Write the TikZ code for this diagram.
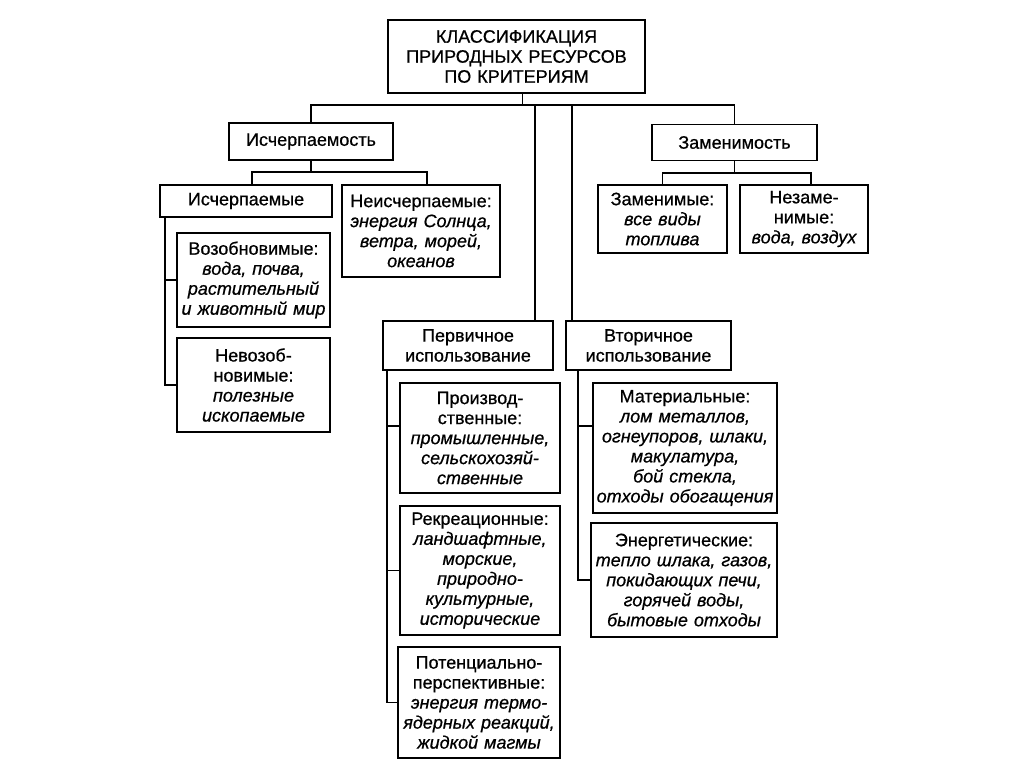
\documentclass[tikz,border=0pt]{standalone}
\usepackage{fontspec}
\setmainfont{Liberation Sans}[UprightFeatures={FakeBold=0.7}, ItalicFeatures={FakeBold=0.7}]
\newcommand\exmpl[1]{{\itshape #1}}
\begin{document}
\begin{tikzpicture}[x=1pt, y=-1pt, line width=1.8pt,
  box/.style={draw, align=center, inner xsep=2pt, inner ysep=0pt,
    font=\fontsize{18}{20}\selectfont}]
  \useasboundingbox [fill=white] (0,0) rectangle (1024,767);

  % top level
  \node [box, text width=253, minimum height=73] (title) at (516.5,56.5)
    {КЛАССИФИКАЦИЯ\\ПРИРОДНЫХ РЕСУРСОВ\\ПО КРИТЕРИЯМ};
  \node [box, text width=160, minimum height=37] (isch) at (311,141.5) {Исчерпаемость};
  \node [box, text width=161, minimum height=36] (zamen) at (734.5,142.5) {Заменимость};

  % exhaustibility
  \node [box, text width=168, minimum height=32] (ischy) at (246,201) {Исчерпаемые};
  \node [box, text width=154, minimum height=92] (neisch) at (421,231)
    {Неисчерпаемые:\\\exmpl{энергия Солнца,\\ветра, морей,\\океанов}};
  \node [box, text width=149, minimum height=94] (vozob) at (253.5,280)
    {Возобновимые:\\\exmpl{вода, почва,\\растительный\\и животный мир}};
  \node [box, text width=149, minimum height=94] (nevozob) at (253.5,385)
    {Невозоб-\\новимые:\\\exmpl{полезные\\ископаемые}};

  % replaceability
  \node [box, text width=125, minimum height=68] (zamy) at (662.5,219)
    {Заменимые:\\\exmpl{все виды\\топлива}};
  \node [box, text width=124, minimum height=68] (nezam) at (804,219)
    {Незаме-\\нимые:\\\exmpl{вода, воздух}};

  % use
  \node [box, text width=166, minimum height=49] (perv) at (468,345.5) {Первичное\\использование};
  \node [box, text width=161, minimum height=49] (vtor) at (648.5,345.5) {Вторичное\\использование};
  \node [box, text width=156, minimum height=110] (proizv) at (480,438)
    {Производ-\\ственные:\\\exmpl{промышленные,\\сельскохозяй-\\ственные}};
  \node [box, text width=156, minimum height=129] (rekr) at (480,570.5)
    {Рекреационные:\\\exmpl{ландшафтные,\\морские,\\природно-\\культурные,\\исторические}};
  \node [box, text width=158, minimum height=111] (potenc) at (479,702.5)
    {Потенциально-\\перспективные:\\\exmpl{энергия термо-\\ядерных реакций,\\жидкой магмы}};
  \node [box, text width=180, minimum height=130] (mater) at (685,448)
    {Материальные:\\\exmpl{лом металлов,\\огнеупоров, шлаки,\\макулатура,\\бой стекла,\\отходы обогащения}};
  \node [box, text width=182, minimum height=114] (energ) at (684,580)
    {Энергетические:\\\exmpl{тепло шлака, газов,\\покидающих печи,\\горячей воды,\\бытовые отходы}};

  % main bus
  \coordinate (bus) at (0,105);
  \coordinate (titlestem) at ([xshift=6pt]title.south);
  \draw (titlestem) -- (titlestem |- bus);
  \draw (isch.north) |- (zamen.north |- bus) -- (zamen.north);
  \coordinate (pervtop) at ([xshift=-19pt]perv.north east);
  \coordinate (vtortop) at ([xshift=7pt]vtor.north west);
  \draw (pervtop) -- (pervtop |- bus);
  \draw (vtortop) -- (vtortop |- bus);

  % second level buses
  \coordinate (ischbus) at (0,172);
  \coordinate (ischyup) at ([xshift=6pt]ischy.north);
  \coordinate (neischup) at ([xshift=6pt]neisch.north);
  \draw (isch.south) -- (isch.south |- ischbus);
  \draw (ischyup) |- (neischup |- ischbus) -- (neischup);
  \coordinate (zambus) at (0,173);
  \coordinate (nezamup) at ([xshift=7pt]nezam.north);
  \draw (zamen.south) -- (zamen.south |- zambus);
  \draw (zamy.north) |- (nezamup |- zambus) -- (nezamup);

  % spines
  \coordinate (ischyspine) at ([xshift=6pt]ischy.south west);
  \draw (ischyspine) |- (nevozob.west);
  \draw (vozob.west) -- (vozob.west -| ischyspine);
  \coordinate (pervspine) at ([xshift=5pt]perv.south west);
  \coordinate (proizvin) at (proizv.west |- 0,426);
  \draw (pervspine) |- (potenc.west);
  \draw (proizvin) -- (proizvin -| pervspine);
  \draw (rekr.west) -- (rekr.west -| pervspine);
  \coordinate (vtorspine) at ([xshift=13pt]vtor.south west);
  \coordinate (materin) at (mater.west |- 0,426);
  \draw (vtorspine) |- (energ.west);
  \draw (materin) -- (materin -| vtorspine);
\end{tikzpicture}
\end{document}
